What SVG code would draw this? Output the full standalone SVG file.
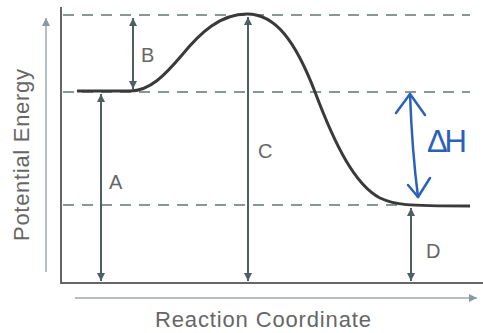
<svg xmlns="http://www.w3.org/2000/svg" width="483" height="333" viewBox="0 0 483 333">
<defs>
<style>
.axis{stroke:#666;stroke-width:2;fill:none}
.dash{stroke:#8c9696;stroke-width:2;stroke-dasharray:11 8;fill:none}
.arr{stroke:#4f5f60;stroke-width:2;fill:none;marker-start:url(#h);marker-end:url(#h)}
.ax2{stroke:#b4bcc4;stroke-width:2;fill:none;marker-end:url(#g)}
.lbl{font-family:"Liberation Sans",Arial,sans-serif;font-size:20px;fill:#666}
.ttl{font-family:"Liberation Sans",Arial,sans-serif;font-size:22px;fill:#666}
.blue{stroke:#2a62b8;stroke-width:2.5;fill:none;stroke-linecap:round;stroke-linejoin:round}
</style>
<marker id="h" viewBox="0 0 10 10" refX="10" refY="5" markerWidth="4" markerHeight="4" orient="auto-start-reverse" markerUnits="strokeWidth">
<path d="M0,0 L10,5 L0,10 Z" fill="#4f5f60"/>
</marker>
<marker id="g" viewBox="0 0 10 10" refX="10" refY="5" markerWidth="4" markerHeight="4" orient="auto" markerUnits="strokeWidth">
<path d="M0,0 L10,5 L0,10 Z" fill="#8c98a4"/>
</marker>
</defs>
<g id="axes">
<line class="axis" x1="61" y1="7" x2="61" y2="283"/>
<line class="axis" x1="60" y1="283" x2="483" y2="283"/>
<line class="ax2" x1="46" y1="272" x2="46" y2="18"/>
<line class="ax2" x1="75" y1="298" x2="477" y2="298"/>
<text class="ttl" x="263" y="327" text-anchor="middle" textLength="216">Reaction Coordinate</text>
<text class="ttl" transform="translate(29,155) rotate(-90)" text-anchor="middle" textLength="172">Potential Energy</text>
</g>
<g id="levels">
<line class="dash" x1="63" y1="15" x2="470" y2="15"/>
<line class="dash" x1="63" y1="92" x2="470" y2="92"/>
<line class="dash" x1="63" y1="205" x2="410" y2="205"/>
</g>
<g id="curve">
<path d="M77,91 L130,91 C150,91 165,75 182,55 C200,33 220,14 247,14 C275,14 295,40 315,92 C335,145 355,185 380,198 C395,205 405,206 470,206" stroke="#3a3a3a" stroke-width="3" fill="none"/>
</g>
<g id="connectors">
<line class="arr" x1="133" y1="18" x2="133" y2="89"/>
<line class="arr" x1="101" y1="94" x2="101" y2="281"/>
<line class="arr" x1="248" y1="17" x2="248" y2="281"/>
<line class="arr" x1="411" y1="208" x2="411" y2="281"/>
</g>
<g id="labels">
<text class="lbl" x="141" y="62">B</text>
<text class="lbl" x="109" y="189">A</text>
<text class="lbl" x="258" y="158">C</text>
<text class="lbl" x="426" y="258">D</text>
</g>
<g id="deltaH">
<path class="blue" d="M410,94 Q412,150 418,197"/>
<path class="blue" d="M396,113 L410,94 L425,115"/>
<path class="blue" d="M408,185 L418,197 L430,178"/>
<text x="427" y="152" font-family="Liberation Sans, Arial, sans-serif" font-size="31" fill="#2a62b8" textLength="40">ΔH</text>
</g>
</svg>
